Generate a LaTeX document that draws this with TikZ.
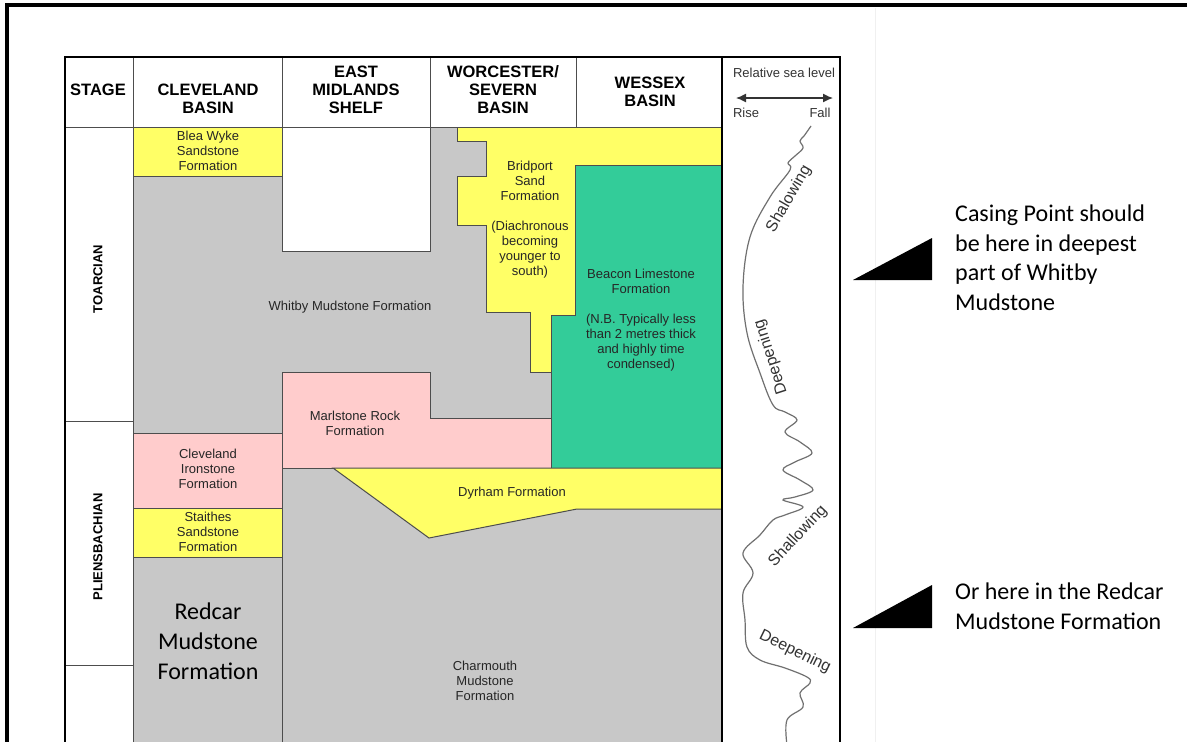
\documentclass[tikz,border=0pt]{standalone}
\usepackage{fontspec}
\setmainfont{Liberation Sans}
\newfontfamily\calibfont{Carlito}
\usepackage{xcolor}
\usepackage{tikz}
\usetikzlibrary{arrows.meta}

\definecolor{sandyellow}{HTML}{FFFF66}
\definecolor{mudgrey}{HTML}{C8C8C8}
\definecolor{ironpink}{HTML}{FFCCCC}
\definecolor{beaconteal}{HTML}{33CC99}
\definecolor{edgegrey}{HTML}{4D4D4D}
\definecolor{curvegrey}{HTML}{707070}

\begin{document}
\begin{tikzpicture}[x=1pt, y=-1pt]
				\tikzset{
					unit/.style={draw=edgegrey, line width=1pt},
					tablerule/.style={draw=edgegrey, line width=1pt},
					tableframe/.style={draw=black, line width=2.5pt},
					fmlabel/.style={align=center, inner sep=0pt, text=black!85, font=\fontsize{13}{15}\selectfont},
					colhead/.style={align=center, inner sep=0pt, font=\bfseries\fontsize{16.5}{18}\selectfont},
					stagelabel/.style={rotate=90, inner sep=0pt, font=\bfseries\fontsize{13}{15}\selectfont},
					trend/.style={inner sep=0pt, text=black!80, font=\fontsize{16}{18}\selectfont},
					note/.style={anchor=north west, align=left, inner sep=0pt, font=\calibfont\fontsize{24}{29.5}\selectfont},
					pointer/.style={fill=black}
				}
				\useasboundingbox[fill=white] (0,0) rectangle (1187,742);
				
				% ---- slide frame ----
				\draw[line width=4pt] (7,745) -- (7,5) -- (1187,5);
				\draw[black!6, line width=1pt] (875,8) -- (875,742);
				
				% ---- mudstone background ----
				\fill[mudgrey] (133,127) rectangle (722,745);
				
				% ---- formation units ----
				\draw[unit, fill=white] (282,127) rectangle (430,251);
				\draw[unit, fill=sandyellow] (133,127) rectangle (282,176);
				\draw[unit, fill=ironpink] (133,433) rectangle (282,508);
				\draw[unit, fill=sandyellow] (133,508) rectangle (282,557);
				\draw[unit, fill=sandyellow] (457,127) -- (722,127) -- (722,165) -- (575,165) -- (575,315)
					-- (551,315) -- (551,372) -- (530,372) -- (530,312) -- (486,312) -- (486,225)
					-- (457,225) -- (457,176) -- (486,176) -- (486,141) -- (457,141) -- cycle;
				\draw[unit, fill=beaconteal] (575,165) -- (722,165) -- (722,468) -- (551,468) -- (551,315) -- (575,315) -- cycle;
				\draw[unit, fill=ironpink] (282,372) -- (430,372) -- (430,418) -- (551,418) -- (551,468) -- (282,468) -- cycle;
				\draw[unit, fill=sandyellow] (333,468) -- (722,468) -- (722,509) -- (577,509) -- (429,538) -- cycle;
				\draw[tablerule] (282,372) -- (282,745);
				
				% ---- table rules ----
				\draw[tablerule] (65,127) -- (722,127);
				\draw[tablerule] (65,421) -- (133,421);
				\draw[tablerule] (65,665) -- (133,665);
				\draw[tablerule] (133,57) -- (133,745);
				\foreach \xx in {282,430,576}
					\draw[tablerule] (\xx,57) -- (\xx,127);
				\draw[tableframe] (65,745) -- (65,57) -- (840,57) -- (840,745);
				\draw[tableframe] (722,57) -- (722,745);
				
				% ---- headers ----
				\node[colhead] (hstage) at (98,90) {STAGE};
				\node[colhead] (hcleveland) at (208,99) {CLEVELAND\\BASIN};
				\node[colhead] (hmidlands) at (356,90) {EAST\\MIDLANDS\\SHELF};
				\node[colhead] (hworcester) at (503,90) {WORCESTER/\\SEVERN\\BASIN};
				\node[colhead] (hwessex) at (650,92) {WESSEX\\BASIN};
				
				% ---- stages ----
				\node[stagelabel] (toarcian) at (98,279) {TOARCIAN};
				\node[stagelabel] (pliens) at (98,547) {PLIENSBACHIAN};
				
				% ---- formation labels ----
				\node[fmlabel] (bleawyke) at (208,151) {Blea Wyke\\Sandstone\\Formation};
				\node[fmlabel] (whitby) at (350,307) {Whitby Mudstone Formation};
				\node[fmlabel] (bridport) at (530,220) {Bridport\\Sand\\Formation\\[15pt](Diachronous\\becoming\\younger to\\south)};
				\node[fmlabel] (beacon) at (641,320) {Beacon Limestone\\Formation\\[15pt](N.B. Typically less\\than 2 metres thick\\and highly time\\condensed)};
				\node[fmlabel] (marlstone) at (355,423) {Marlstone Rock\\Formation};
				\node[fmlabel] (ironstone) at (208,469) {Cleveland\\Ironstone\\Formation};
				\node[fmlabel] (staithes) at (208,532) {Staithes\\Sandstone\\Formation};
				\node[fmlabel] (dyrham) at (512,493) {Dyrham Formation};
				\node[fmlabel] (charmouth) at (485,681) {Charmouth\\Mudstone\\Formation};
				\node[align=center, inner sep=0pt, font=\calibfont\fontsize{24}{30}\selectfont] (redcar) at (208,641) {Redcar\\Mudstone\\Formation};
				
				% ---- relative sea level ----
				\node[fmlabel, text=black!80] (sealevel) at (784,73) {Relative sea level};
				\coordinate (riseend) at (736,98);
				\coordinate (fallend) at (833,98);
				\draw[black!80, line width=1.3pt, {Latex[length=10pt,width=9pt]}-{Latex[length=10pt,width=9pt]}] (riseend) -- (fallend);
				\node[fmlabel, text=black!80] (rise) at (746,113) {Rise};
				\node[fmlabel, text=black!80] (fall) at (820,113) {Fall};
				
				\draw[curvegrey, line width=1.2pt] plot[smooth, tension=0.6] coordinates {
					(811,126) (804,136) (800,141) (803,148) (795,156) (788,163) (790,170)
					(770,197) (750,237) (743,287) (747,333) (760,373) (773,405)
					(785,412) (797,420) (785,432) (800,442) (812,453) (795,462) (783,470)
					(800,480) (813,490) (795,497) (783,500) (803,507) (785,515) (773,520)
					(760,535) (743,553) (753,573) (743,593) (745,620) (747,647) (760,660)
					(785,668) (807,677) (810,683) (800,693) (803,707) (787,720) (787,745)};
				
				\node[trend, rotate=60] (shal1) at (789,199) {Shalowing};
				\node[trend, rotate=108] (deep1) at (771,357) {Deepening};
				\node[trend, rotate=47] (shal2) at (798,536) {Shallowing};
				\node[trend, rotate=-26] (deep2) at (795,652) {Deepening};
				
				% ---- casing point notes ----
				\fill[pointer] (853,280) -- (932,238) -- (932,280) -- cycle;
				\fill[pointer] (853,628) -- (932,585) -- (932,628) -- cycle;
				\node[note] (casing) at (955,205) {Casing Point should\\be here in deepest\\part of Whitby\\Mudstone};
				\node[note] (orhere) at (955,583) {Or here in the Redcar\\Mudstone Formation};
\end{tikzpicture}
\end{document}
